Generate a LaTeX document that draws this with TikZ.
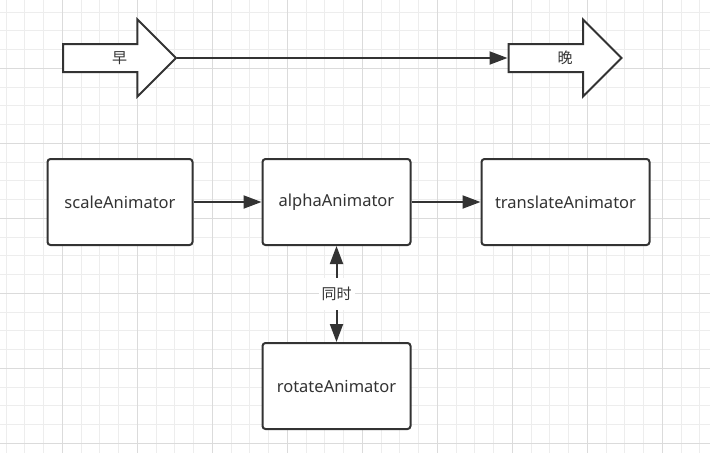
\documentclass[tikz,border=0pt]{standalone}
\usepackage{fontspec}
\setmainfont{Noto Sans}
\newfontfamily\cjk{Noto Sans CJK SC}
\usetikzlibrary{positioning,shapes.arrows,arrows.meta}
\definecolor{linegray}{HTML}{333333}
\definecolor{gridminor}{HTML}{EDEDED}
\definecolor{gridmajor}{HTML}{DBDBDB}
\tikzset{
  >={Triangle[length=18pt,width=13pt]},
  anim/.style={draw=linegray, line width=2pt, rounded corners=3pt, fill=white,
    minimum height=86pt, inner sep=0pt, text=linegray,
    font=\fontsize{16.5}{19}\selectfont},
  bigarrow/.style={single arrow, draw=linegray, line width=2pt, fill=white,
    single arrow head extend=24.5pt, single arrow head indent=0pt,
    minimum height=113pt, inner xsep=0pt, inner ysep=0pt,
    text height=19pt, text depth=7pt, text=linegray,
    label={[xshift=7pt, text=linegray, font=\cjk\fontsize{15}{18}\selectfont]center:#1}},
  conn/.style={line width=2pt, draw=linegray},
}

\begin{document}
\begin{tikzpicture}[x=1pt,y=-1pt]
  \useasboundingbox (0,0) rectangle (710,453);
  \fill[white] (0,0) rectangle (710,453);
  % grid
  \foreach \i in {0,...,37}
    \draw[gridminor, line width=1pt] ({6.05+18.75*\i},0) -- ++(0,453);
  \foreach \i in {0,...,23}
    \draw[gridminor, line width=1pt] (0,{12.05+18.75*\i}) -- ++(710,0);
  \foreach \i in {0,...,8}
    \draw[gridmajor, line width=1pt] ({62.3+75*\i},0) -- ++(0,453);
  \foreach \i in {0,...,5}
    \draw[gridmajor, line width=1pt] (0,{68.3+75*\i}) -- ++(710,0);

  % early / late
  \node[bigarrow=早] (early) at (112.5,58) {};
  \node[bigarrow=晚] (late) at (558,58) {};
  \path[->] (early.tip) edge[conn] (late.tail);

  % animators
  \node[anim, minimum width=145pt] (scale) at (120,202) {scaleAnimator};
  \node[anim, minimum width=148pt] (alpha) [right=68pt of scale] {alphaAnimator};
  \node[anim, minimum width=168pt] (translate) [right=69pt of alpha] {translateAnimator};
  \node[anim, minimum width=148pt] (rotate) [below=96pt of alpha] {rotateAnimator};

  \path[->]
    (scale) edge[conn] (alpha)
    (alpha) edge[conn] (translate);
  \path[<->]
    (alpha) edge[conn] node[fill=white, inner xsep=3pt, inner ysep=9pt, text=linegray,
      font=\cjk\fontsize{15}{18}\selectfont] {同时} (rotate);
\end{tikzpicture}
\end{document}
